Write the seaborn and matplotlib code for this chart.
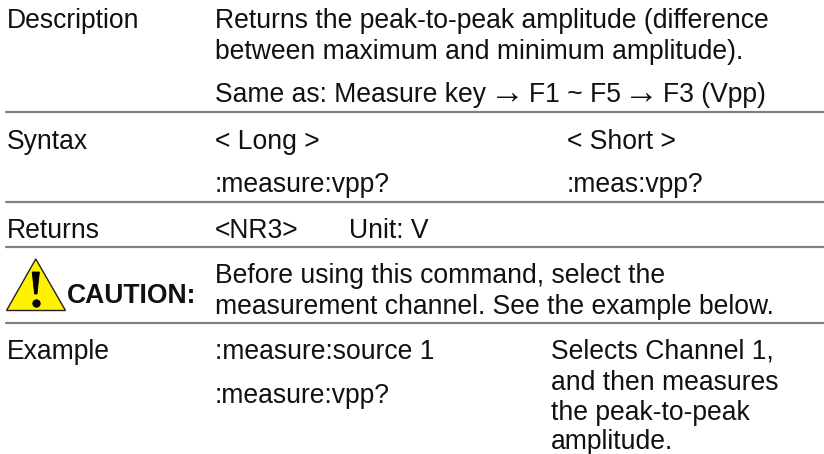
import matplotlib
matplotlib.use("Agg")
import matplotlib.pyplot as plt
import seaborn as sns
import pandas as pd

# Text of the table

left_labels = ["Description", "Syntax", "Returns", "Example"]
description = ["Returns the peak-to-peak amplitude (difference",
               "between maximum and minimum amplitude)."]
same_as = ["Same as: Measure key", "F1 ~ F5", "F3 (Vpp)"]
arrow = "\u2192"
syntax_long = ["< Long >", ":measure:vpp?"]
syntax_short = ["< Short >", ":meas:vpp?"]
returns = ["<NR3>", "Unit: V"]
caution_label = "CAUTION:"
caution = ["Before using this command, select the",
           "measurement channel. See the example below."]
example_cmd = [":measure:source 1", ":measure:vpp?"]
example_note = ["Selects Channel 1,", "and then measures",
                "the peak-to-peak", "amplitude."]
rule_rows = [112, 201.5, 247, 322.5]

sns.set_theme(style="white")
plt.rcParams["font.family"] = ["Liberation Sans", "DejaVu Sans"]

fig = plt.figure(figsize=(8.24, 4.54), dpi=100)
ax = fig.add_axes([0, 0, 1, 1])
ax.set_xlim(0, 824)
ax.set_ylim(454, 0)
ax.axis("off")

FS = 19.1
COL1 = 6.5
COL2 = 215


def put(x, y, s, **kw):
    ax.text(x, y, s, fontsize=FS, color="#111111", va="baseline", ha="left", **kw)


# rules
for y in rule_rows:
    rule = pd.DataFrame({"x": [6, 824], "y": [y, y]})
    sns.lineplot(data=rule, x="x", y="y", ax=ax, color="#808080", linewidth=1.6, legend=False)

# left column
for label, y in zip(left_labels, [28, 149, 238, 359]):
    put(COL1, y, label)

# description
for s, y in zip(description, [28, 59]):
    put(COL2, y, s)

# same as line, arrows are set apart because they are wider in the reference
for s, x in zip(same_as, [215, 529, 663.5]):
    put(x, 102, s)
for x in [507.5, 641.5]:
    ax.text(x, 104, arrow, fontsize=25, color="#111111", va="baseline", ha="center")

# syntax
for s, y in zip(syntax_long, [149, 192]):
    put(COL2, y, s)
for s, y in zip(syntax_short, [149, 192]):
    put(567, y, s)

# returns
put(COL2, 238, returns[0])
put(349, 238, returns[1])

# caution triangle
ax.fill([35.8, 6.5, 65.5], [259, 310.5, 310.5], facecolor="#FFF200",
        edgecolor="#222222", linewidth=1.0, joinstyle="miter")
ax.fill([32.2, 39.4, 37, 34.6], [272, 272, 294, 294], facecolor="black", edgecolor="black", linewidth=0.6)
sns.scatterplot(x=[35.8], y=[302.5], ax=ax, color="black", s=36, linewidth=0, legend=False)
ax.text(67, 303, caution_label, fontsize=FS, fontweight="bold", color="#111111", va="baseline", ha="left")
for s, y in zip(caution, [283, 314]):
    put(COL2, y, s)

# example
for s, y in zip(example_cmd, [359, 403]):
    put(COL2, y, s)
for s, y in zip(example_note, [359, 389.5, 419.5, 449]):
    put(551, y, s)

ax.set_xlabel("")
ax.set_ylabel("")

fig.savefig("out.png", dpi=100)
